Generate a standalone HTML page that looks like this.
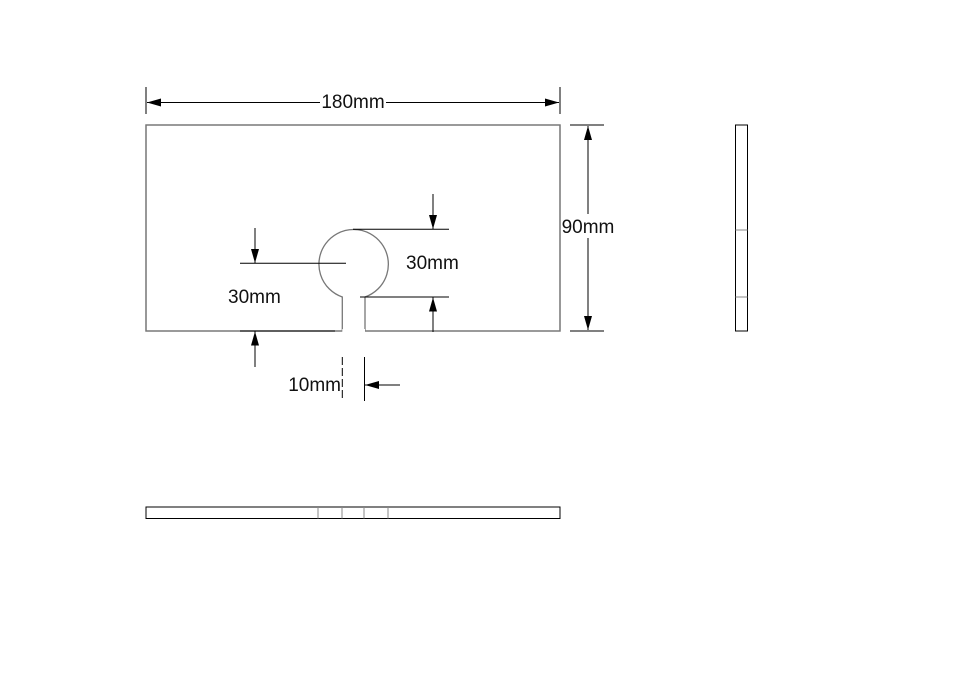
<!DOCTYPE html>
<html><head><style>body{margin:0;background:#fff}svg{display:block}</style></head><body>
<svg width="977" height="678" xmlns="http://www.w3.org/2000/svg" font-family="Liberation Sans, sans-serif" font-size="19" fill="#111">
<defs>
<marker id="a" markerWidth="14" markerHeight="8" refX="14" refY="4" orient="auto" markerUnits="userSpaceOnUse"><path d="M0,0 L14,4 L0,8 z" fill="#000"/></marker>
</defs>
<g stroke="#777" stroke-width="1.3" fill="none">
<path d="M342.3,331 L146,331 L146,125 L560,125 L560,331 L365,331 L365,297 A34.7,34.7 0 1 0 342.3,297 Z" fill="none"/>
</g>
<rect x="146" y="125" width="414" height="206" fill="none" stroke="#777" stroke-width="1.3"/>
<rect x="342.3" y="329" width="22.7" height="4" fill="#fff"/>
<g stroke="#000" stroke-width="1" fill="none">
<line x1="146" y1="87" x2="146" y2="114"/><line x1="560" y1="87" x2="560" y2="114"/>
<line x1="320" y1="102.5" x2="147" y2="102.5" marker-end="url(#a)"/>
<line x1="386" y1="102.5" x2="559" y2="102.5" marker-end="url(#a)"/>
<line x1="570" y1="125" x2="604" y2="125"/><line x1="570" y1="331" x2="604" y2="331"/>
<line x1="588" y1="214" x2="588" y2="126" marker-end="url(#a)"/>
<line x1="588" y1="238" x2="588" y2="330" marker-end="url(#a)"/>
<line x1="353" y1="229.3" x2="449" y2="229.3"/>
<line x1="433" y1="194" x2="433" y2="229" marker-end="url(#a)"/>
<line x1="360" y1="297" x2="449" y2="297"/>
<line x1="433" y1="332" x2="433" y2="297.5" marker-end="url(#a)"/>
<line x1="240" y1="263.3" x2="346" y2="263.3"/>
<line x1="255" y1="228" x2="255" y2="263" marker-end="url(#a)"/>
<line x1="240" y1="331" x2="335" y2="331"/>
<line x1="255" y1="367" x2="255" y2="331.5" marker-end="url(#a)"/>
<line x1="342.3" y1="357" x2="342.3" y2="401" stroke-dasharray="8,3"/>
<line x1="364.5" y1="357" x2="364.5" y2="401"/>
<line x1="400" y1="385" x2="365" y2="385" marker-end="url(#a)"/>
<rect x="735.5" y="125" width="12" height="206"/>
<line x1="735.5" y1="230" x2="747.5" y2="230" stroke="#888"/>
<line x1="735.5" y1="297" x2="747.5" y2="297" stroke="#888"/>
<rect x="146" y="507" width="414" height="11.5"/>
<g stroke="#888"><line x1="318" y1="507" x2="318" y2="518.5"/><line x1="342" y1="507" x2="342" y2="518.5"/><line x1="364" y1="507" x2="364" y2="518.5"/><line x1="388" y1="507" x2="388" y2="518.5"/></g>
</g>
<text x="353" y="108" text-anchor="middle">180mm</text>
<text x="588" y="233" text-anchor="middle">90mm</text>
<text x="406" y="269">30mm</text>
<text x="228" y="303">30mm</text>
<text x="341" y="391" text-anchor="end">10mm</text>
</svg>
</body></html>
